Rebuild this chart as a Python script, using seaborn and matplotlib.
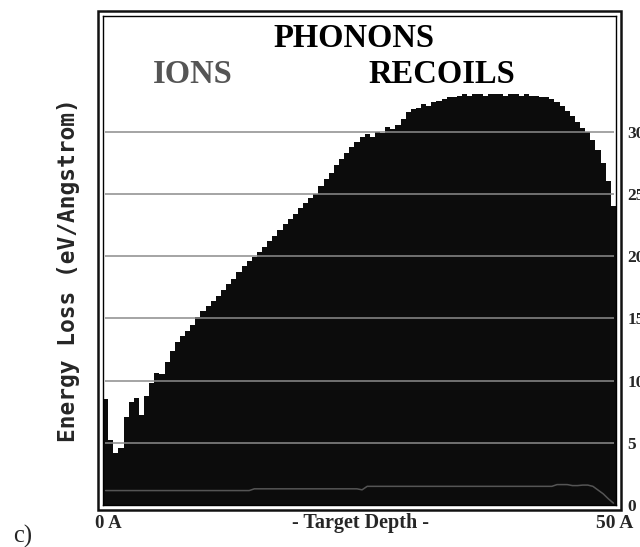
import numpy as np
import pandas as pd
import matplotlib
matplotlib.use("Agg")
import matplotlib.pyplot as plt
import seaborn as sns
from matplotlib.patches import Rectangle

# Target depth axis (Angstrom), 100 equal bins
depth_min, depth_max = 0.0, 50.0
n_bins = 100

# Phonon energy loss from recoils, eV/Angstrom per depth bin
recoil_phonons = [
    8.5, 5.2, 4.2, 4.6, 7.1, 8.3, 8.6, 7.2, 8.8, 9.8,
    10.6, 10.5, 11.5, 12.4, 13.1, 13.6, 14.0, 14.5, 15.1, 15.6,
    16.0, 16.4, 16.8, 17.3, 17.8, 18.2, 18.7, 19.2, 19.6, 19.9,
    20.3, 20.7, 21.2, 21.6, 22.1, 22.6, 23.0, 23.4, 23.9, 24.3,
    24.7, 25.0, 25.6, 26.2, 26.7, 27.3, 27.8, 28.3, 28.8, 29.2,
    29.6, 29.8, 29.6, 30.0, 29.9, 30.4, 30.2, 30.5, 31.0, 31.6,
    31.8, 31.9, 32.2, 32.1, 32.4, 32.5, 32.6, 32.8, 32.8, 32.9,
    33.0, 32.9, 33.0, 33.0, 32.9, 33.0, 33.0, 33.0, 32.9, 33.0,
    33.0, 32.9, 33.0, 32.9, 32.9, 32.8, 32.8, 32.6, 32.4, 32.1,
    31.7, 31.3, 30.8, 30.3, 30.0, 29.3, 28.5, 27.5, 26.0, 24.0,
]

# Phonon energy loss from ions, eV/Angstrom per depth bin
ion_phonons = [
    1.16, 1.16, 1.16, 1.16, 1.16, 1.16, 1.16, 1.16, 1.16, 1.16,
    1.16, 1.16, 1.16, 1.16, 1.16, 1.16, 1.16, 1.16, 1.16, 1.16,
    1.16, 1.16, 1.16, 1.16, 1.16, 1.16, 1.16, 1.16, 1.16, 1.30,
    1.30, 1.30, 1.30, 1.30, 1.30, 1.30, 1.30, 1.30, 1.30, 1.30,
    1.30, 1.30, 1.30, 1.30, 1.30, 1.30, 1.30, 1.30, 1.30, 1.30,
    1.22, 1.50, 1.50, 1.50, 1.50, 1.50, 1.50, 1.50, 1.50, 1.50,
    1.50, 1.50, 1.50, 1.50, 1.50, 1.50, 1.50, 1.50, 1.50, 1.50,
    1.50, 1.50, 1.50, 1.50, 1.50, 1.50, 1.50, 1.50, 1.50, 1.50,
    1.50, 1.50, 1.50, 1.50, 1.50, 1.50, 1.50, 1.50, 1.64, 1.64,
    1.64, 1.56, 1.56, 1.60, 1.60, 1.50, 1.20, 0.90, 0.50, 0.15,
]

energy_ticks = [0, 5, 10, 15, 20, 25, 30]
depth_ticks = [10, 20, 30, 40]

sns.set_style("white")
plt.rcParams["font.family"] = ["Liberation Serif", "DejaVu Serif"]

W, H = 640, 547
fig = plt.figure(figsize=(W / 100, H / 100), dpi=100)


def fx(px):
    return px / W


def fy(py):
    return 1 - py / H


ax = fig.add_axes([fx(103), fy(505), fx(616) - fx(103), fy(16) - fy(505)])

edges = np.linspace(depth_min, depth_max, n_bins + 1)
centers = (edges[:-1] + edges[1:]) / 2
df = pd.DataFrame({"depth": centers, "recoils": recoil_phonons, "ions": ion_phonons})

# Recoil phonons as a filled step histogram
sns.histplot(data=df, x="depth", weights="recoils", bins=edges.tolist(), element="step",
             fill=True, color="#0c0c0c", alpha=1, linewidth=0, ax=ax, zorder=2)

# Horizontal reference lines drawn over the fill
ax.hlines(energy_ticks[1:], 0.2, 49.8, colors="#8c8c8c", lw=1.1, zorder=3)

# Ion phonons as a thin line
sns.lineplot(data=df, x="depth", y="ions", color="#555555", lw=1.1, ax=ax, zorder=4)

ax.set_xlim(depth_min, depth_max)
ax.set_ylim(0, 39.3)
ax.set_xlabel("")
ax.set_ylabel("")
ax.set_xticks(depth_ticks)
ax.set_xticklabels([])
ax.tick_params(axis="x", direction="in", length=5, width=1, color="black", bottom=True)
ax.yaxis.tick_right()
ax.set_yticks(energy_ticks)
ax.set_yticklabels([str(t) for t in energy_ticks], fontweight="bold", fontsize=12.5)
ax.tick_params(axis="y", length=0, pad=8, right=True, left=False)
for s in ax.spines.values():
    s.set_visible(True)
    s.set_linewidth(1.0)
    s.set_color("black")

# Outer double frame
fig.add_artist(Rectangle((fx(98), fy(510)), fx(621) - fx(98), fy(11) - fy(510),
                         fill=False, ec="#111111", lw=1.8, transform=fig.transFigure))

title_kw = dict(fontsize=23.5, fontweight="bold", va="baseline", ha="left")
fig.text(fx(273), fy(46.7), "PHONONS", color="black", **title_kw)
fig.text(fx(153), fy(83), "IONS", color="#555555", **title_kw)
fig.text(fx(368), fy(83), "RECOILS", color="black", **title_kw)

fig.text(fx(95), fy(528), "0 A", fontsize=13.5, fontweight="bold", va="baseline", ha="left")
fig.text(fx(360.3), fy(527.7), "- Target Depth -", fontsize=14.5, fontweight="bold",
         va="baseline", ha="center")
fig.text(fx(633.3), fy(528), "50 A", fontsize=14, fontweight="bold", va="baseline", ha="right")
fig.text(fx(13), fy(543), "c)", fontsize=17.7, va="baseline", ha="left")

fig.text(fx(69), fy(270.5), "Energy Loss (eV/Angstrom)", rotation=90, ha="center",
         va="center", family=["DejaVu Sans Mono"], fontweight="bold", fontsize=16.5)

fig.savefig("out.png", dpi=100)
